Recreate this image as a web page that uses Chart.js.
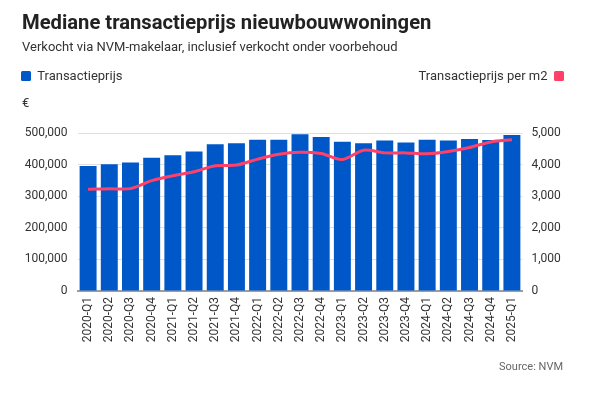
<!DOCTYPE html>
<html>
<head>
<meta charset="utf-8">
<script src="https://cdn.jsdelivr.net/npm/chart.js@4/dist/chart.umd.min.js"></script>
<style>
  html, body { margin: 0; padding: 0; background: #fff; }
  body { width: 600px; height: 396px; position: relative; overflow: hidden; font-family: Roboto, "Noto Sans", sans-serif; color: #222; }
  #wrap { position: absolute; left: 0; top: 0; width: 600px; height: 396px; }
  .t { position: absolute; white-space: nowrap; }
  #title { left: 22px; top: 10px; font-size: 20.2px; font-weight: 700; color: #222; line-height: 24px; }
  #sub { left: 22px; top: 39px; font-size: 13px; color: #333; line-height: 16px; }
  #lg1 { left: 21px; top: 68px; font-size: 13px; color: #333; line-height: 16px; }
  #lg2 { right: 36px; top: 68px; font-size: 13px; color: #333; line-height: 16px; }
  .sq { display: inline-block; width: 10px; height: 10px; vertical-align: -1px; border-radius: 1.5px; }
  #euro { left: 22px; top: 95px; font-size: 13px; color: #333; line-height: 16px; }
  #src { right: 37px; top: 360px; font-size: 11px; color: #666; line-height: 14px; }
</style>
</head>
<body>
<div id="wrap"><canvas id="c" width="600" height="396"></canvas></div>
<div class="t" id="title">Mediane transactieprijs nieuwbouwwoningen</div>
<div class="t" id="sub">Verkocht via NVM-makelaar, inclusief verkocht onder voorbehoud</div>
<div class="t" id="lg1"><span class="sq" style="background:#0057c8"></span>&nbsp; Transactieprijs</div>
<div class="t" id="lg2">Transactieprijs per m2 &nbsp;<span class="sq" style="background:#ff4169"></span></div>
<div class="t" id="euro">€</div>
<div class="t" id="src">Source: NVM</div>
<script>
const categories = ["2020-Q1","2020-Q2","2020-Q3","2020-Q4","2021-Q1","2021-Q2","2021-Q3","2021-Q4","2022-Q1","2022-Q2","2022-Q3","2022-Q4","2023-Q1","2023-Q2","2023-Q3","2023-Q4","2024-Q1","2024-Q2","2024-Q3","2024-Q4","2025-Q1"];
const transactieprijs = [395200, 401500, 406700, 421400, 429800, 441300, 464400, 467500, 479000, 479000, 495800, 487400, 472700, 467500, 475900, 469600, 479000, 475900, 481100, 478000, 493700];
const prijsPerM2 = [3218, 3239, 3239, 3491, 3648, 3774, 3962, 3984, 4172, 4329, 4392, 4350, 4161, 4455, 4371, 4371, 4340, 4413, 4539, 4717, 4790];
const leftTicks = [0, 100000, 200000, 300000, 400000, 500000];
const rightTicks = [0, 1000, 2000, 3000, 4000, 5000];

const fmt = v => Number(v).toLocaleString('en-US');
const tickFont = { family: 'Roboto', size: 12 };

new Chart(document.getElementById('c'), {
  data: {
    labels: categories,
    datasets: [
      {
        type: 'line', label: 'Transactieprijs per m2', data: prijsPerM2, yAxisID: 'y2',
        borderColor: '#ff4169', borderWidth: 3, pointRadius: 0, tension: 0.3, order: 0
      },
      {
        type: 'bar', label: 'Transactieprijs', data: transactieprijs, yAxisID: 'y',
        backgroundColor: '#0057c8', barPercentage: 0.8, categoryPercentage: 1, order: 1
      }
    ]
  },
  options: {
    responsive: false, animation: false, devicePixelRatio: 1,
    layout: { padding: { top: 133, left: 0, right: 0, bottom: 0 } },
    plugins: { legend: { display: false }, tooltip: { enabled: false } },
    scales: {
      x: {
        grid: { display: false, drawTicks: false },
        border: { display: true, color: '#9e9e9e', width: 2 },
        ticks: { minRotation: 90, maxRotation: 90, autoSkip: false, padding: 6, color: '#333', font: tickFont },
        afterFit: s => { s.height = 105; }
      },
      y: {
        position: 'left', min: 0, max: 500000,
        afterBuildTicks: s => { s.ticks = leftTicks.map(v => ({ value: v })); },
        grid: { color: '#e0e0e0', lineWidth: 1, drawTicks: false },
        border: { display: false },
        ticks: { padding: 10, color: '#333', font: tickFont, callback: v => fmt(v) },
        afterFit: s => { s.width = 77.5; }
      },
      y2: {
        position: 'right', min: 0, max: 5000,
        afterBuildTicks: s => { s.ticks = rightTicks.map(v => ({ value: v })); },
        grid: { display: false, drawTicks: false },
        border: { display: false },
        ticks: { padding: 9, color: '#333', font: tickFont, callback: v => fmt(v) },
        afterFit: s => { s.width = 77.5; }
      }
    }
  }
});
</script>
</body>
</html>
